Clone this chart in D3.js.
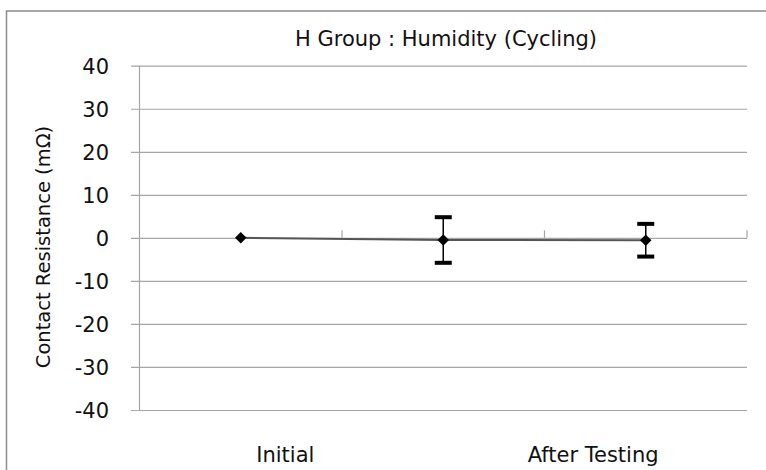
<!DOCTYPE html>
<html><head><meta charset="utf-8">
<script src="https://cdn.jsdelivr.net/npm/d3@7"></script>
<style>body{margin:0;background:#fff}svg{display:block}text{font-family:"DejaVu Sans",Verdana,sans-serif;fill:#111}</style>
</head><body><div id="c"></div>
<script>
const categories = ["Initial", "", "After Testing"];
const means = [0, -0.5, -0.55];
const errors = [0, 5.3, 3.8];
const yTicks = [40, 30, 20, 10, 0, -10, -20, -30, -40];
const labelNames = ["Initial", "After Testing"];
const labelPos = [0.22, 1.74];
const title = "H Group : Humidity (Cycling)";
const yTitle = "Contact Resistance (mΩ)";

const W = 766, H = 470;
const m = {left: 139.5, top: 65.7, right: 747, bottom: 410};
const svg = d3.select("#c").append("svg").attr("width", W).attr("height", H);

svg.append("rect").attr("x", 6.5).attr("y", 11).attr("width", 820).attr("height", 520)
  .attr("fill", "none").attr("stroke", "#8a8a8a").attr("stroke-width", 1.5);

const x = d3.scaleBand().domain(d3.range(categories.length)).range([m.left, m.right]);
const xl = d3.scaleLinear().domain([-0.5, categories.length - 0.5]).range([m.left, m.right]);
const y = d3.scaleLinear().domain([-40, 40]).range([m.bottom, m.top]);

// gridlines
const yAxis = d3.axisLeft(y).tickValues(yTicks).tickSize(-(m.right - m.left)).tickFormat(d => String(d));
const gy = svg.append("g").attr("transform", `translate(${m.left},0)`).call(yAxis);
gy.select(".domain").remove();
gy.selectAll(".tick line").attr("stroke", "#a6a6a6").attr("stroke-width", 1.2).attr("x1", -8.5);
gy.selectAll(".tick text").attr("font-size", 21).attr("fill", "#111").attr("x", -30.5).attr("dy", "0.36em").style("font-family", '"DejaVu Sans",sans-serif');
svg.append("line").attr("x1", m.left).attr("x2", m.left).attr("y1", m.top).attr("y2", m.bottom)
  .attr("stroke", "#a6a6a6").attr("stroke-width", 1.2);

// x axis at zero
const xAxis = d3.axisTop(x).tickSize(0).tickFormat("");
const gx = svg.append("g").attr("transform", `translate(0,${y(0)})`).call(xAxis);
gx.select(".domain").remove();
const bounds = d3.range(1, categories.length + 1).map(i => m.left + i * x.step());
svg.selectAll(".ctick").data(bounds).join("line").attr("class", "ctick")
  .attr("x1", d => d).attr("x2", d => d).attr("y1", y(0)).attr("y2", y(0) - 7.5)
  .attr("stroke", "#a6a6a6").attr("stroke-width", 1.2);

// category labels
svg.selectAll(".clab").data(labelNames).join("text").attr("class", "clab")
  .attr("x", (d, i) => xl(labelPos[i])).attr("y", 462).attr("text-anchor", "middle")
  .attr("font-size", 21).text(d => d);

// series line
const cx = i => x(i) + x.bandwidth() / 2;
const line = d3.line().x((d, i) => cx(i)).y(d => y(d));
svg.append("path").datum(means).attr("d", line).attr("fill", "none")
  .attr("stroke", "#555").attr("stroke-width", 2);

// error bars
const eb = svg.selectAll(".eb").data(means.map((d, i) => ({i, d, e: errors[i]})).filter(o => o.e > 0)).join("g");
eb.append("line").attr("x1", o => cx(o.i)).attr("x2", o => cx(o.i))
  .attr("y1", o => y(o.d + o.e)).attr("y2", o => y(o.d - o.e)).attr("stroke", "#000").attr("stroke-width", 1.5);
[1, -1].forEach(s => {
  eb.append("line").attr("x1", o => cx(o.i) - 8.5).attr("x2", o => cx(o.i) + 8.5)
    .attr("y1", o => y(o.d + s * o.e)).attr("y2", o => y(o.d + s * o.e)).attr("stroke", "#000").attr("stroke-width", 4);
});

// markers
svg.selectAll(".mk").data(means).join("path").attr("class", "mk")
  .attr("d", d3.symbol(d3.symbolDiamond2, 85)())
  .attr("transform", (d, i) => `translate(${cx(i)},${y(d)})`).attr("fill", "#000");

// titles
svg.append("text").attr("x", 446).attr("y", 46).attr("text-anchor", "middle").attr("font-size", 21).text(title);
svg.append("text").attr("transform", `translate(50,247) rotate(-90)`).attr("text-anchor", "middle")
  .attr("font-size", 19.5).text(yTitle);
</script></body></html>
